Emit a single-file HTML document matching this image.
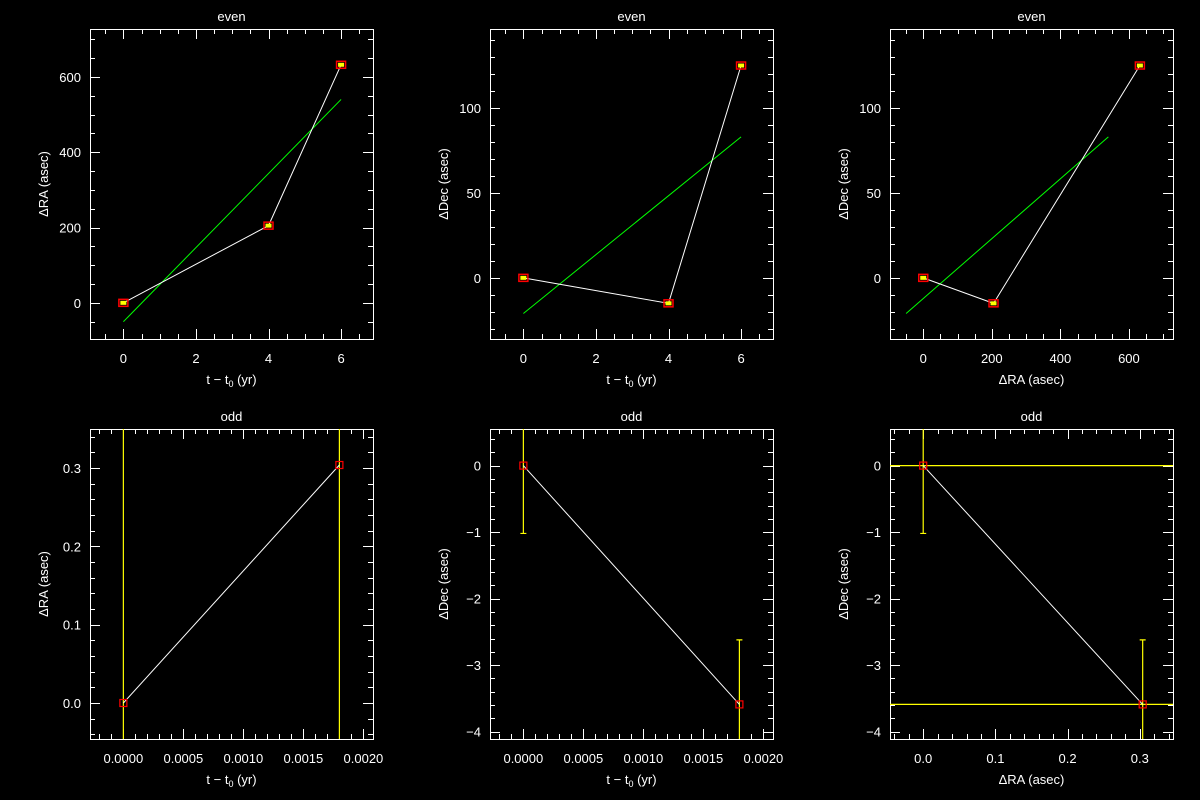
<!DOCTYPE html>
<html><head><meta charset="utf-8"><style>
html,body{margin:0;padding:0;background:#000;width:1200px;height:800px;overflow:hidden}
svg{display:block}
text{font-family:"Liberation Sans",sans-serif;fill:#fff;font-size:13px}
</style></head><body>
<svg id="chart" width="1200" height="800"></svg>
<script>
// ---- data ----
const evenT = [0, 4, 6];
const evenRA = [0, 205, 632];
const evenDec = [0, -15, 125];
const oddT = [0, 0.0018];
const oddRA = [0, 0.304];
const oddDec = [0, -3.59];
const oddDecErr = [1.02, 0.97];
const fitT = [0, 6];
const fitRA = [-50, 540];
const fitDec = [-21, 83];
const fitRAx = [-50, 540];
const fitRAdec = [-21, 83];
const xTicksT = ["0","2","4","6"];
const xTicksTodd = ["0.0000","0.0005","0.0010","0.0015","0.0020"];

const NS = "http://www.w3.org/2000/svg";
const svg = document.getElementById('chart');
function el(tag, attrs, parent){const e=document.createElementNS(NS,tag);for(const k in attrs)e.setAttribute(k,attrs[k]);(parent||svg).appendChild(e);return e;}

const panels = [
 {name:'even-ra-vs-t',title:'even',x0:90,y0:29,xr:[-0.92,6.88],yr:[-96,727],xmaj:2,xmin:0.5,ymaj:200,ymin:50,xlab:xTicksT,xt:'t',yt:'\u0394RA (asec)',
  xs:evenT,ys:evenRA,fx:fitT,fy:fitRA,even:true},
 {name:'even-dec-vs-t',title:'even',x0:490,y0:29,xr:[-0.92,6.88],yr:[-36,146.5],xmaj:2,xmin:0.5,ymaj:50,ymin:10,xlab:xTicksT,xt:'t',yt:'\u0394Dec (asec)',
  xs:evenT,ys:evenDec,fx:fitT,fy:fitDec,even:true},
 {name:'even-dec-vs-ra',title:'even',x0:890,y0:29,xr:[-97,728.6],yr:[-36,146.5],xmaj:200,xmin:50,ymaj:50,ymin:10,xt:'ra',yt:'\u0394Dec (asec)',
  xs:evenRA,ys:evenDec,fx:fitRAx,fy:fitRAdec,even:true},
 {name:'odd-ra-vs-t',title:'odd',x0:90,y0:429,xr:[-0.000278,0.00208],yr:[-0.046,0.35],xmaj:0.0005,xmin:0.0001,ymaj:0.1,ymin:0.02,xlab:xTicksTodd,xt:'t',yt:'\u0394RA (asec)',yfmt:1,
  xs:oddT,ys:oddRA,vfull:true},
 {name:'odd-dec-vs-t',title:'odd',x0:490,y0:429,xr:[-0.000278,0.00208],yr:[-4.11,0.55],xmaj:0.0005,xmin:0.0001,ymaj:1,ymin:0.2,xlab:xTicksTodd,xt:'t',yt:'\u0394Dec (asec)',
  xs:oddT,ys:oddDec,verr:oddDecErr},
 {name:'odd-dec-vs-ra',title:'odd',x0:890,y0:429,xr:[-0.046,0.346],yr:[-4.11,0.55],xmaj:0.1,xmin:0.02,ymaj:1,ymin:0.2,xt:'ra',yt:'\u0394Dec (asec)',xfmt:1,
  xs:oddRA,ys:oddDec,verr:oddDecErr,hfull:true},
];
const W=283,H=310;

panels.forEach(p=>{
  const g=el('g',{});
  
  
  const X=v=>p.x0+(v-p.xr[0])/(p.xr[1]-p.xr[0])*W;
  const Y=v=>p.y0+H-(v-p.yr[0])/(p.yr[1]-p.yr[0])*H;
  const clip='c'+p.name;
  const cp=el('clipPath',{id:clip},g);el('rect',{x:p.x0,y:p.y0,width:W,height:H},cp);
  // frame
  const fr=el('rect',{x:p.x0+0.5,y:p.y0+0.5,width:W,height:H,fill:'none',stroke:'#fff','stroke-width':1},g);
  
  // ticks
  const eps=1e-9;
  const tg=el('g',{stroke:'#fff','stroke-width':1},g);
  
  let xi=0;
  for(let v=Math.ceil(p.xr[0]/p.xmin-eps)*p.xmin; v<=p.xr[1]+eps; v+=p.xmin){
    const vv=Math.round(v/p.xmin)*p.xmin;
    const maj=Math.abs(vv/p.xmaj-Math.round(vv/p.xmaj))<1e-6;
    const L=maj?10:5, x=Math.round(X(vv))+0.5;
    el('line',{x1:x,y1:p.y0+H,x2:x,y2:p.y0+H-L},tg);
    el('line',{x1:x,y1:p.y0,x2:x,y2:p.y0+L},tg);
    if(maj){
      let s;
      if(p.xlab){ s=p.xlab[xi++]; if(s===undefined) s=''; }
      else s=p.xfmt?vv.toFixed(p.xfmt):String(Math.round(vv));
      const t=el('text',{x:X(vv),y:p.y0+H+24,'text-anchor':'middle'},g);
      t.textContent=s;
      
    }
  }
  for(let v=Math.ceil(p.yr[0]/p.ymin-eps)*p.ymin; v<=p.yr[1]+eps; v+=p.ymin){
    const vv=Math.round(v/p.ymin)*p.ymin;
    const maj=Math.abs(vv/p.ymaj-Math.round(vv/p.ymaj))<1e-6;
    const L=maj?10:5, y=Math.round(Y(vv))+0.5;
    el('line',{x1:p.x0,y1:y,x2:p.x0+L,y2:y},tg);
    el('line',{x1:p.x0+W,y1:y,x2:p.x0+W-L,y2:y},tg);
    if(maj){
      const s=p.yfmt?vv.toFixed(p.yfmt):String(Math.round(vv)).replace('-','\u2212');
      const t=el('text',{x:p.x0-9,y:Y(vv)+5,'text-anchor':'end'},g);
      t.textContent=s;
      
    }
  }
  // title
  const tt=el('text',{x:p.x0+W/2,y:p.y0-8,'text-anchor':'middle','font-size':14},g);
  tt.textContent=p.title;
  
  // x title
  const xt=el('text',{x:p.x0+W/2,y:p.y0+H+45,'text-anchor':'middle','font-size':14},g);
  
  if(p.xt==='t'){ xt.innerHTML='t \u2212 t<tspan font-size="9" dy="3">0</tspan><tspan dy="-3"> (yr)</tspan>'; }
  else xt.textContent='\u0394RA (asec)';
  // y title
  const yt=el('text',{x:0,y:0,'text-anchor':'middle','font-size':14,transform:`translate(${p.x0-42},${p.y0+H/2}) rotate(-90)`},g);
  yt.textContent=p.yt;
  
  const dg=el('g',{'clip-path':`url(#${clip})`},g);
  // fit line
  if(p.fx){
    const fl=el('line',{x1:X(p.fx[0]),y1:Y(p.fy[0]),x2:X(p.fx[1]),y2:Y(p.fy[1]),stroke:'#00ff00','stroke-width':1},dg);
    
  }
  // error bars
  p.xs.forEach((xv,i)=>{
    if(p.vfull){
      const e=el('line',{x1:X(xv),y1:p.y0,x2:X(xv),y2:p.y0+H,stroke:'#ffff00','stroke-width':1.2},dg);
      
    }
    if(p.hfull){
      const e=el('line',{x1:p.x0,y1:Y(p.ys[i]),x2:p.x0+W,y2:Y(p.ys[i]),stroke:'#ffff00','stroke-width':1.2},dg);
      
    }
    if(p.verr){
      const a=Y(p.ys[i]+p.verr[i]),b=Y(p.ys[i]-p.verr[i]);
      const e=el('path',{d:`M${X(xv)},${a}V${b}M${X(xv)-3},${a}H${X(xv)+3}M${X(xv)-3},${b}H${X(xv)+3}`,stroke:'#ffff00','stroke-width':1.2,fill:'none'},dg);
      
    }
  });
  // data line
  const pts=p.xs.map((v,i)=>X(v)+','+Y(p.ys[i])).join(' ');
  const pl=el('polyline',{points:pts,fill:'none',stroke:'#fff','stroke-width':1},dg);
  
  // markers
  p.xs.forEach((xv,i)=>{
    const cx=X(xv),cy=Y(p.ys[i]);
    if(p.even){
      el('rect',{x:cx-3,y:cy-2,width:6,height:4,fill:'#ffff00'},dg);
      const m=el('rect',{x:cx-4.5,y:cy-3.5,width:9,height:7,fill:'none',stroke:'#ff0000','stroke-width':1.5},dg);
      
    } else {
      const m=el('rect',{x:cx-3.5,y:cy-3.5,width:7,height:7,fill:'none',stroke:'#ff0000','stroke-width':1.2},dg);
      
    }
  });
});
</script>
</body></html>
